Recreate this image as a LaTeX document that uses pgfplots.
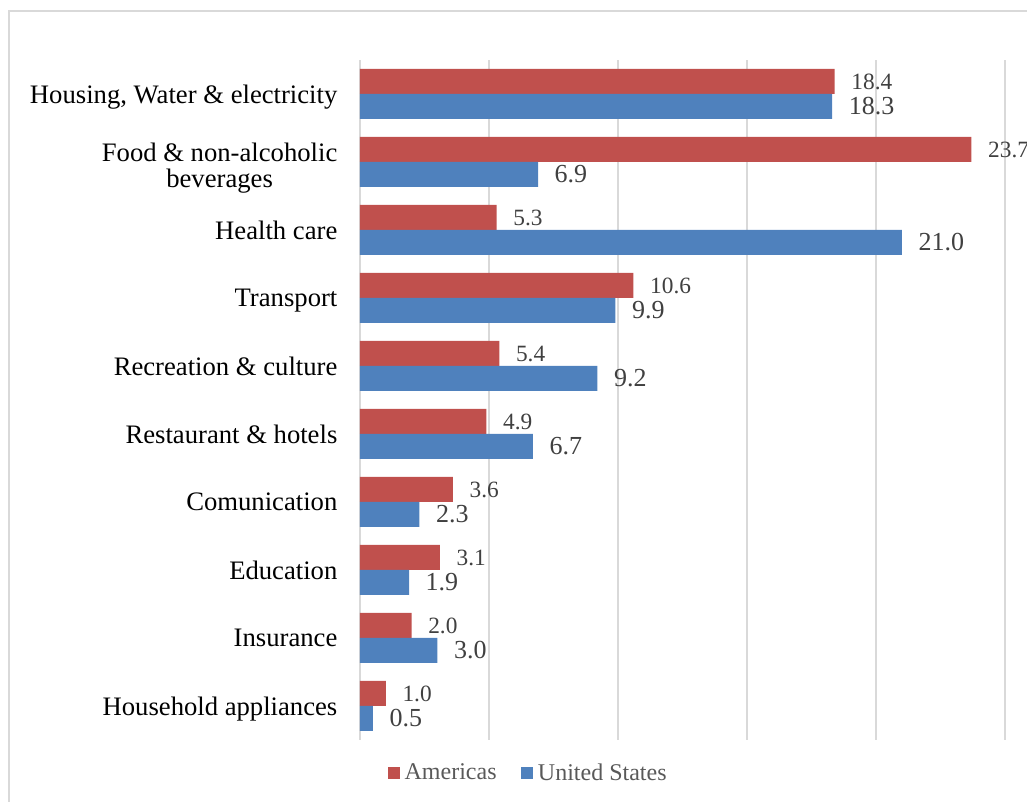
\documentclass[border=0pt]{standalone}
\usepackage{fontspec}
\setmainfont{Liberation Serif}
\usepackage{pgfplots}
\pgfplotsset{compat=1.18}
\definecolor{amred}{HTML}{C0504D}
\definecolor{usblue}{HTML}{4F81BD}
\definecolor{gridgray}{HTML}{D9D9D9}
\definecolor{valgray}{HTML}{404040}
\definecolor{leggray}{HTML}{595959}
\begin{document}
\begin{tikzpicture}
\useasboundingbox (-270pt,-46.5pt) rectangle (500.25pt,555pt);
\draw[gridgray, line width=1.1pt] (-263.25pt,-70pt) -- (-263.25pt,546.75pt) -- (530pt,546.75pt);
\begin{axis}[
  at={(0pt,0pt)}, anchor=south west,
  scale only axis, width=483.75pt, height=510pt,
  xmin=0, xmax=25, ymin=-0.5, ymax=9.5,
  xbar, bar width=18.75pt, clip=false,
  axis line style={draw=none}, tick style={draw=none},
  xmajorgrids, grid style={gridgray, line width=1pt},
  xtick={0,5,...,25}, xticklabels={},
  ytick={0,1,2,3,4,5,6,7,9},
  yticklabels={Household appliances, Insurance, Education, Comunication, Restaurant \& hotels, Recreation \& culture, Transport, Health care, {Housing, Water \& electricity}},
  yticklabel style={align=center, font=\fontsize{20}{19}\selectfont, inner sep=0pt, text depth=0pt, xshift=-12.5pt, text=black},
  extra y ticks={8},
  extra y tick labels={{Food \& non-alcoholic\\beverages}},
  extra y tick style={yticklabel style={yshift=-2.5pt}, grid=none},
  /pgf/number format/assume math mode=true,
  point meta=x,
  nodes near coords={\pgfmathprintnumber[fixed, fixed zerofill, precision=1]{\pgfplotspointmeta}},
  nodes near coords align=horizontal,
  legend columns=2,
  legend style={at={(0.043,-0.0485)}, anchor=west, draw=none, fill=none, inner sep=0pt,
    font=\fontsize{18}{20}\selectfont, text=leggray,
    /tikz/every even column/.append style={column sep=16.5pt}},
]
\addplot[fill=amred, draw=none, bar shift=9.375pt,
  nodes near coords style={font=\fontsize{17.5}{20}\selectfont, text=valgray, anchor=west, xshift=9pt},
  legend image code/.code={\fill[amred] (0pt,-4.5pt) rectangle (9pt,4.5pt); \path (10.5pt,0pt);}]
  coordinates {(1.0,0) (2.0,1) (3.1,2) (3.6,3) (4.9,4) (5.4,5) (10.6,6) (5.3,7) (23.7,8) (18.4,9)};
\addlegendentry{Americas}
\addplot[fill=usblue, draw=none, bar shift=-9.375pt,
  nodes near coords style={font=\fontsize{19.5}{22}\selectfont, text=valgray, anchor=west, xshift=9pt},
  legend image code/.code={\fill[usblue] (0pt,-4.5pt) rectangle (9pt,4.5pt); \path (10.5pt,0pt);}]
  coordinates {(0.5,0) (3.0,1) (1.9,2) (2.3,3) (6.7,4) (9.2,5) (9.9,6) (21.0,7) (6.9,8) (18.3,9)};
\addlegendentry{United States}
\end{axis}
\end{tikzpicture}
\end{document}
